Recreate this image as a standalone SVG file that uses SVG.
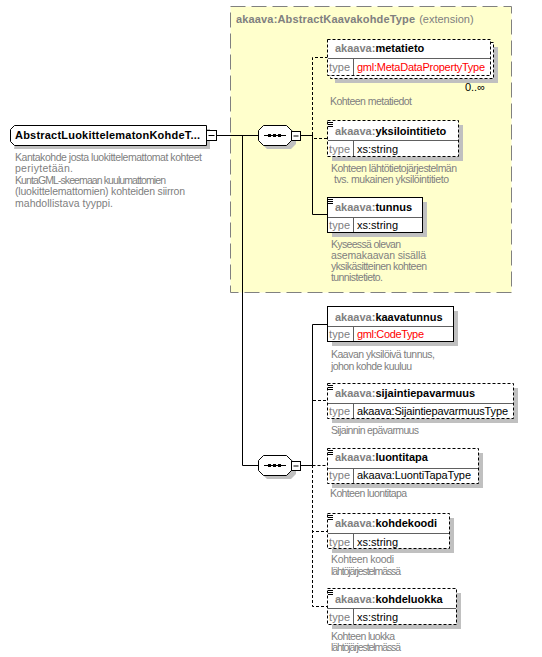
<svg xmlns="http://www.w3.org/2000/svg" width="542" height="657" viewBox="0 0 542 657">
<style>
text{font-family:"Liberation Sans",Arial,sans-serif}
.t{font-size:11px;font-weight:bold;fill:#000}
.p{fill:#808080}
.d{font-size:10.5px;fill:#808080}
.ty{font-size:11px;fill:#808080}
.tv{font-size:11px;fill:#000}
.red{fill:#ff0000}
.box{fill:#fff;stroke:#000;stroke-width:1}
.opt{stroke-dasharray:3,2}
.sh{fill:#c0c0c0}
.div{stroke:#606060;stroke-width:1;fill:none}
.ln{stroke:#000;stroke-width:1;fill:none}
.dl{stroke:#000;stroke-width:1;fill:none;stroke-dasharray:3,2}
.ic{stroke:#000;stroke-width:1;fill:none}
</style>
<rect x="230.5" y="6.5" width="281" height="286" fill="#ffffcc" stroke="#808080" stroke-dasharray="15,6"/>
<text x="236" y="23" class="t"><tspan class="p" textLength="179">akaava:AbstractKaavakohdeType</tspan><tspan class="p" font-weight="normal" dx="4">(extension)</tspan></text>

<g id="connectors">
<path class="ln" d="M216,135.5H258"/>
<path class="ln" d="M242.5,135V465.5H258"/>
<path class="ln" d="M300,135.5H312.5"/>
<path class="dl" d="M312.5,135V57.5H327"/>
<path class="dl" d="M312.5,135V138.5H327"/>
<path class="ln" d="M312.5,135V214.5H327"/>
<path class="ln" d="M300,465.5H312.5"/>
<path class="dl" d="M312.5,465V400.5H327"/>
<path class="ln" d="M312.5,465V324.5H327"/>
<path class="dl" d="M312.5,465.5H327"/>
<path class="dl" d="M312.5,465V531.5H327"/>
<path class="dl" d="M312.5,465V606.5H327"/>
</g>

<g id="root">
<path class="sh" d="M18,129H210V149H14Z"/>
<path class="box" d="M14.5,125.5H206.5V145.5H14.5L10.5,141.5V129.5Z"/>
<text x="15" y="139" class="t" textLength="185">AbstractLuokittelematonKohdeT...</text>
<rect x="206.5" y="130.5" width="10" height="10" class="box"/>
<path class="ln" d="M208.5,135.5H214.5"/>
<text x="15" y="161" class="d" textLength="187">Kantakohde josta luokittelemattomat kohteet</text>
<text x="15" y="172" class="d" textLength="58">periytetään.</text>
<text x="15" y="184" class="d" textLength="151">KuntaGML-skeemaan kuulumattomien</text>
<text x="15" y="195" class="d" textLength="170">(luokittelemattomien) kohteiden siirron</text>
<text x="15" y="207" class="d" textLength="98">mahdollistava tyyppi.</text>
</g>

<g id="seq1">
<path class="sh" d="M267,129H291L296,134V144L291,149H267L262,144V134Z"/>
<path class="box" d="M263.5,125.5H286.5L291.5,130.5V140.5L286.5,145.5H263.5L258.5,140.5V130.5Z"/>
<path class="ln" d="M264,135.5H286"/>
<rect x="268" y="134" width="3" height="3"/>
<rect x="273" y="134" width="3" height="3"/>
<rect x="278" y="134" width="3" height="3"/>
<rect x="291.5" y="131.5" width="9" height="9" class="box"/>
<path class="ln" d="M293.5,136H298.5"/>
</g>

<g id="seq2">
<path class="sh" d="M267,459H291L296,464V474L291,479H267L262,474V464Z"/>
<path class="box" d="M263.5,455.5H286.5L291.5,460.5V470.5L286.5,475.5H263.5L258.5,470.5V460.5Z"/>
<path class="ln" d="M264,465.5H286"/>
<rect x="268" y="464" width="3" height="3"/>
<rect x="273" y="464" width="3" height="3"/>
<rect x="278" y="464" width="3" height="3"/>
<rect x="291.5" y="461.5" width="9" height="9" class="box"/>
<path class="ln" d="M293.5,466H298.5"/>
</g>

<g id="metatieto">
<rect x="335" y="47" width="163" height="36" class="sh"/>
<rect x="330.5" y="42.5" width="163" height="36" class="box opt"/>
<rect x="327.5" y="39.5" width="163" height="36" class="box opt"/>
<path class="div" d="M328,58.5H490M353.5,59V75"/>
<text x="335" y="52" class="t"><tspan class="p">akaava:</tspan>metatieto</text>
<text x="329" y="71" class="ty" textLength="21">type</text>
<text x="357" y="71" class="tv red" textLength="128">gml:MetaDataPropertyType</text>
<text x="485" y="91" class="tv" text-anchor="end">0..∞</text>
<text x="330" y="105" class="d" textLength="82">Kohteen metatiedot</text>
</g>

<g id="yksilointitieto">
<rect x="332" y="125" width="131" height="36" class="sh"/>
<rect x="327.5" y="120.5" width="131" height="36" class="box opt"/>
<path class="ic" d="M328,122.5H333M328,124.5H333M328,126.5H333"/>
<path class="div" d="M328,140.5H458M353.5,141V156"/>
<text x="335" y="135" class="t"><tspan class="p">akaava:</tspan>yksilointitieto</text>
<text x="329" y="153" class="ty" textLength="21">type</text>
<text x="357" y="153" class="tv" textLength="41">xs:string</text>
<text x="331" y="172" class="d" textLength="126">Kohteen lähtötietojärjestelmän</text>
<text x="334" y="183" class="d" textLength="115">tvs. mukainen yksilöintitieto</text>
</g>

<g id="tunnus">
<rect x="332" y="202" width="95" height="35" class="sh"/>
<rect x="327.5" y="197.5" width="95" height="35" class="box"/>
<path class="ic" d="M328,199.5H333M328,201.5H333M328,203.5H333"/>
<path class="div" d="M328,217.5H422M353.5,218V232"/>
<text x="335" y="211" class="t"><tspan class="p">akaava:</tspan>tunnus</text>
<text x="329" y="229" class="ty" textLength="21">type</text>
<text x="357" y="229" class="tv" textLength="41">xs:string</text>
<text x="331" y="248" class="d" textLength="70">Kyseessä olevan</text>
<text x="331" y="259" class="d" textLength="95">asemakaavan sisällä</text>
<text x="331" y="270" class="d" textLength="96">yksikäsitteinen kohteen</text>
<text x="331" y="281" class="d" textLength="52">tunnistetieto.</text>
</g>

<g id="kaavatunnus">
<rect x="332" y="311" width="126" height="35" class="sh"/>
<rect x="327.5" y="306.5" width="126" height="35" class="box"/>
<path class="div" d="M328,326.5H453M353.5,327V341"/>
<text x="335" y="321" class="t"><tspan class="p">akaava:</tspan>kaavatunnus</text>
<text x="329" y="338" class="ty" textLength="21">type</text>
<text x="357" y="338" class="tv red" textLength="67">gml:CodeType</text>
<text x="331" y="358" class="d" textLength="104">Kaavan yksilöivä tunnus,</text>
<text x="331" y="369.5" class="d" textLength="81">johon kohde kuuluu</text>
</g>

<g id="sijaintiepavarmuus">
<rect x="332" y="388" width="186" height="35" class="sh"/>
<rect x="327.5" y="383.5" width="186" height="35" class="box opt"/>
<path class="ic" d="M328,385.5H333M328,387.5H333M328,389.5H333"/>
<path class="div" d="M328,403.5H513M353.5,404V418"/>
<text x="335" y="397" class="t"><tspan class="p">akaava:</tspan>sijaintiepavarmuus</text>
<text x="329" y="415" class="ty" textLength="21">type</text>
<text x="357" y="415" class="tv" textLength="151">akaava:SijaintiepavarmuusType</text>
<text x="331" y="434" class="d" textLength="88">Sijainnin epävarmuus</text>
</g>

<g id="luontitapa">
<rect x="332" y="453" width="151" height="35" class="sh"/>
<rect x="327.5" y="448.5" width="151" height="35" class="box opt"/>
<path class="ic" d="M328,450.5H333M328,452.5H333M328,454.5H333"/>
<path class="div" d="M328,468.5H478M353.5,469V483"/>
<text x="335" y="461" class="t"><tspan class="p">akaava:</tspan>luontitapa</text>
<text x="329" y="479" class="ty" textLength="21">type</text>
<text x="357" y="479" class="tv" textLength="114">akaava:LuontiTapaType</text>
<text x="330" y="497" class="d" textLength="77">Kohteen luontitapa</text>
</g>

<g id="kohdekoodi">
<rect x="332" y="518" width="122" height="35" class="sh"/>
<rect x="327.5" y="513.5" width="122" height="35" class="box opt"/>
<path class="ic" d="M328,515.5H333M328,517.5H333M328,519.5H333"/>
<path class="div" d="M328,533.5H449M353.5,534V548"/>
<text x="335" y="527" class="t"><tspan class="p">akaava:</tspan>kohdekoodi</text>
<text x="329" y="546" class="ty" textLength="21">type</text>
<text x="357" y="546" class="tv" textLength="41">xs:string</text>
<text x="331" y="563" class="d" textLength="63">Kohteen koodi</text>
<text x="331" y="575" class="d" textLength="70">lähtöjärjestelmässä</text>
</g>

<g id="kohdeluokka">
<rect x="332" y="593" width="129" height="36" class="sh"/>
<rect x="327.5" y="588.5" width="129" height="36" class="box opt"/>
<path class="ic" d="M328,590.5H333M328,592.5H333M328,594.5H333"/>
<path class="div" d="M328,608.5H456M353.5,609V624"/>
<text x="335" y="603" class="t"><tspan class="p">akaava:</tspan>kohdeluokka</text>
<text x="329" y="621" class="ty" textLength="21">type</text>
<text x="357" y="621" class="tv" textLength="41">xs:string</text>
<text x="331" y="640" class="d" textLength="64">Kohteen luokka</text>
<text x="331" y="651" class="d" textLength="70">lähtöjärjestelmässä</text>
</g>
</svg>
